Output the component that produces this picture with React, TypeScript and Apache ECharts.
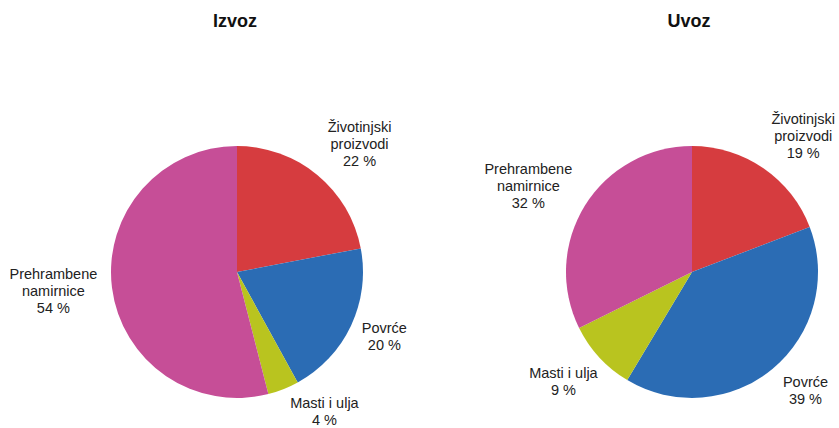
import React, { useEffect, useRef } from "react";
import * as echarts from "echarts";

const categories = ["Životinjski\nproizvodi", "Povrće", "Masti i ulja", "Prehrambene\nnamirnice"];
const izvozValues = [22, 20, 4, 54];
const uvozValues = [19, 39, 9, 32];
const titles = ["Izvoz", "Uvoz"];
const colors = ["#d63c3f", "#2b6cb4", "#b9c41f", "#c64e97"];

// label nudges (pixels) per chart, per category
const labelNudges = [
  [[11, 7], [-11, -10], [23, -23], [-10, -3]],
  [[12, 8], [1, -16], [0, -9], [-15, 6]],
];

const FONT = "'Liberation Sans', Arial, sans-serif";

export default function App() {
  const ref = useRef<HTMLDivElement>(null);
  useEffect(() => {
    if (!ref.current) return;
    const chart = echarts.init(ref.current, undefined, { renderer: "svg" });
    const centers = [
      [237, 272],
      [692, 272],
    ];
    const titleX = [235, 689];
    const sets = [izvozValues, uvozValues];
    const series: any[] = [];
    sets.forEach((vals, i) => {
      const data = categories.map((c, j) => ({ name: c, value: vals[j] }));
      series.push({
        type: "pie",
        center: centers[i],
        radius: 126,
        startAngle: 90,
        clockwise: true,
        silent: true,
        color: colors,
        itemStyle: { borderWidth: 0 },
        label: { show: false },
        labelLine: { show: false },
        emphasis: { disabled: true },
        data,
      });
      series.push({
        type: "pie",
        center: centers[i],
        radius: [158, 186],
        startAngle: 90,
        clockwise: true,
        silent: true,
        itemStyle: { color: "rgba(0,0,0,0)", borderWidth: 0 },
        label: {
          show: true,
          position: "inside",
          rotate: 0,
          align: "center",
          fontFamily: FONT,
          fontSize: 14.5,
          lineHeight: 17,
          color: "#222",
          formatter: (p: any) => `${p.name}\n${p.value} %`,
        },
        labelLayout: (p: any) => {
          const n = labelNudges[i][p.dataIndex];
          return { dx: n[0], dy: n[1] };
        },
        labelLine: { show: false },
        emphasis: { disabled: true },
        data,
      });
    });
    chart.setOption({
      animation: false,
      backgroundColor: "#fff",
      graphic: titles.map((t, i) => ({
        type: "text",
        x: titleX[i],
        y: 21,
        style: {
          text: t,
          align: "center",
          verticalAlign: "middle",
          fontFamily: FONT,
          fontSize: 18,
          fontWeight: "bold",
          fill: "#111",
        },
      })),
      series,
    });
    return () => chart.dispose();
  }, []);
  return (
    <div
      ref={ref}
      style={{ position: "absolute", left: 0, top: 0, width: 839, height: 428 }}
    />
  );
}
